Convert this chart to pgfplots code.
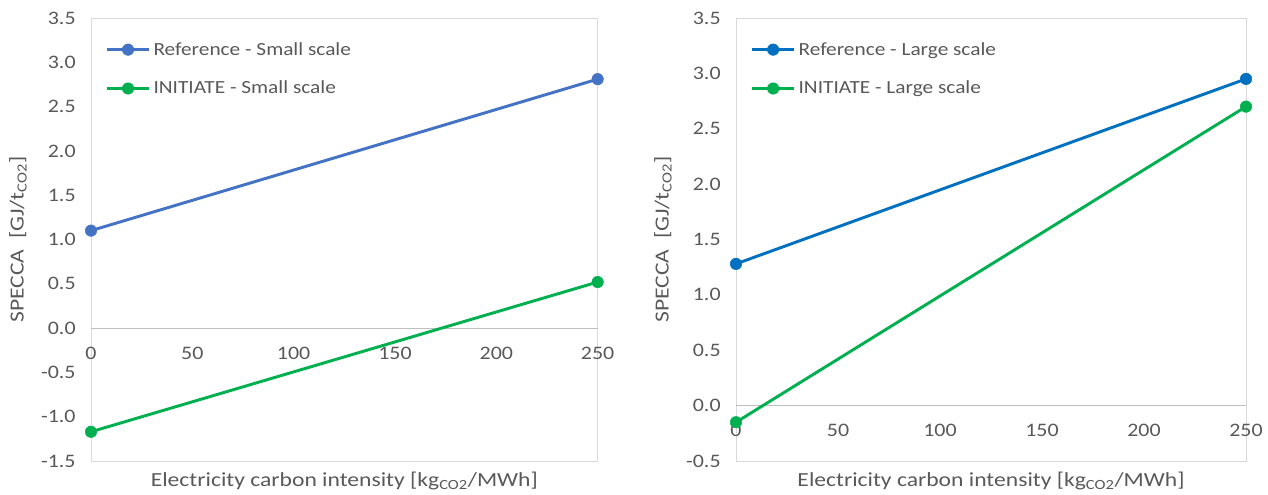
\documentclass[border=0pt]{standalone}
\usepackage{pgfplots}
\pgfplotsset{compat=1.18}
\usepackage{fontspec}
\setmainfont{Carlito}
\newfontfamily\tickfont[FakeStretch=1.15]{Carlito}
\newfontfamily\labfont[FakeStretch=1.18]{Carlito}
\definecolor{txt}{HTML}{595959}
\definecolor{frame}{HTML}{D9D9D9}
\definecolor{zline}{HTML}{BFBFBF}
\definecolor{blueA}{HTML}{4472C4}
\definecolor{blueB}{HTML}{0070C0}
\definecolor{grn}{HTML}{00B050}
\pgfplotsset{
  myax/.style={
    scale only axis,
    width=380pt, height=332.25pt,
    xmin=0, xmax=250,
    xtick={0,50,100,150,200,250},
    ytick distance=0.5,
    major tick length=0pt,
    axis line style={frame},
    tick label style={font=\tickfont\fontsize{14.3}{16}\selectfont, text=txt},
    yticklabel style={xshift=-8pt, /pgf/number format/.cd, fixed, fixed zerofill, precision=1, assume math mode=true},
    xticklabel style={/pgf/number format/assume math mode=true},
    every axis x label/.style={at={(rel axis cs:0.5,0)}, anchor=center, yshift=-15pt,
      font=\labfont\fontsize{15}{18}\selectfont, text=txt},
    every axis y label/.style={at={(rel axis cs:0,0.5)}, rotate=90, anchor=center, yshift=54.75pt,
      font=\labfont\fontsize{15}{18}\selectfont, text=txt},
    extra y ticks={0},
    extra y tick labels={},
    extra y tick style={grid=major, major grid style={zline, line width=0.8pt}},
    legend style={draw=none, fill=none, font=\tickfont\fontsize{13.9}{16}\selectfont, text=txt,
      at={(0.025,0.955)}, anchor=north west, row sep=14pt, inner sep=1pt},
    legend cell align=left,
    legend image code/.code={
      \draw[mark repeat=2, mark phase=2, #1] plot coordinates {(0pt,0pt) (16pt,0pt) (32pt,0pt)};
    },
    every axis plot/.append style={line width=2.2pt, mark=*, mark size=4.3pt},
  }
}
\begin{document}
\begin{tikzpicture}
\useasboundingbox (0,0) rectangle (951pt,370.5pt);
\begin{axis}[myax, at={(68.25pt,24.75pt)}, anchor=south west,
  ymin=-1.5, ymax=3.5,
  xticklabel style={yshift=89pt},
  xlabel={Electricity carbon intensity [kg\textsubscript{CO2}/MWh]},
  ylabel={SPECCA\ \ [GJ/t\textsubscript{CO2}]}]
\addplot[color=blueA, mark options={fill=blueA, draw=blueA, line width=0.4pt}] coordinates {(0,1.10) (250,2.81)};
\addlegendentry{Reference - Small scale}
\addplot[color=grn, mark options={fill=grn, draw=grn, line width=0.4pt}] coordinates {(0,-1.17) (250,0.52)};
\addlegendentry{INITIATE - Small scale}
\end{axis}
\begin{axis}[myax, at={(552pt,24.75pt)}, anchor=south west, width=382.5pt,
  ymin=-0.5, ymax=3.5,
  xticklabel style={yshift=31pt},
  xlabel={Electricity carbon intensity [kg\textsubscript{CO2}/MWh]},
  ylabel={SPECCA\ \ [GJ/t\textsubscript{CO2}]}]
\addplot[color=blueB, mark options={fill=blueB, draw=blueB, line width=0.4pt}] coordinates {(0,1.28) (250,2.95)};
\addlegendentry{Reference - Large scale}
\addplot[color=grn, mark options={fill=grn, draw=grn, line width=0.4pt}] coordinates {(0,-0.15) (250,2.70)};
\addlegendentry{INITIATE - Large scale}
\end{axis}
\end{tikzpicture}
\end{document}
